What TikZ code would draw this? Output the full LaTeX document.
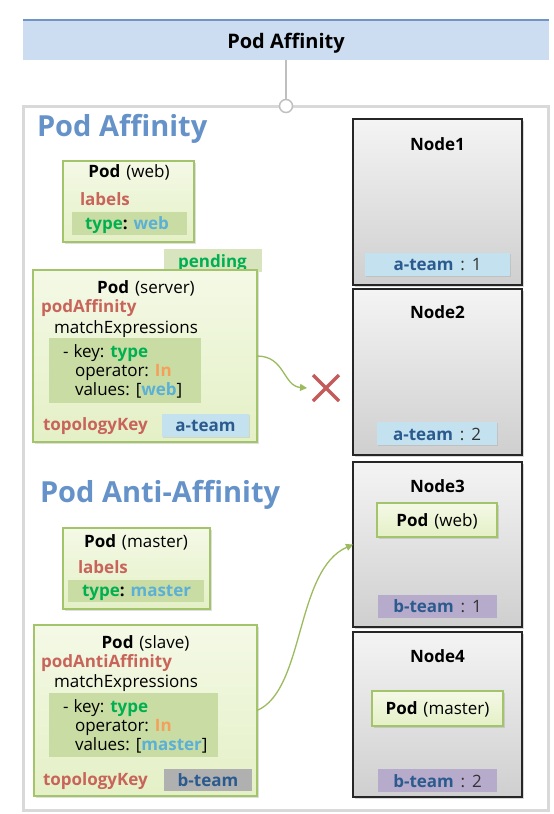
\documentclass[tikz,border=0pt]{standalone}
\usepackage{fontspec}
\setmainfont{Open Sans}
\usetikzlibrary{shadows,arrows.meta}
\definecolor{headblue}{HTML}{6592C8}
\definecolor{titlefill}{HTML}{CCDDF1}
\definecolor{titleline}{HTML}{7094C4}
\definecolor{frameline}{HTML}{D9D9D9}
\definecolor{knobline}{HTML}{BFBFBF}
\definecolor{podedge}{HTML}{A3C46A}
\definecolor{podtop}{HTML}{F4F9E6}
\definecolor{podbot}{HTML}{E4F0C6}
\definecolor{innergreen}{HTML}{C9DCA3}
\definecolor{pendfill}{HTML}{D7E4BE}
\definecolor{labred}{HTML}{C8645A}
\definecolor{typegreen}{HTML}{00B050}
\definecolor{valblue}{HTML}{5BB0D6}
\definecolor{inorange}{HTML}{F5A05A}
\definecolor{ateamfill}{HTML}{C3E1EE}
\definecolor{teamtext}{HTML}{2B5B8E}
\definecolor{bteamfill}{HTML}{B7ABCB}
\definecolor{bteamgrey}{HTML}{B0B0B0}
\definecolor{nodeedge}{HTML}{262626}
\definecolor{ntop}{HTML}{F4F4F4}
\definecolor{nbot}{HTML}{CFCFCF}
\definecolor{xred}{HTML}{C55A5A}
\definecolor{arrowgreen}{HTML}{9CBB5E}
\begin{document}
\begin{tikzpicture}[x=1pt,y=-1pt,
  every node/.style={inner sep=0pt,outer sep=0pt},
  fs/.style={font=\fontsize{17}{20}\selectfont},
  tw/.style={fs,anchor=base west},
  tc/.style={fs,anchor=base},
  head/.style={font=\fontsize{29}{33}\selectfont\bfseries,text=headblue,anchor=base west},
  podbox/.style={draw=podedge,line width=1.2pt,top color=podtop,bottom color=podbot,
     drop shadow={opacity=0.25,shadow xshift=1.5pt,shadow yshift=-1.5pt}},
  kbox/.style={draw=nodeedge,line width=1.2pt,top color=ntop,bottom color=nbot,
     drop shadow={opacity=0.3,shadow xshift=1.5pt,shadow yshift=-1.5pt}},
  innerbox/.style={fill=innergreen},
  alabel/.style={fill=ateamfill,drop shadow={opacity=0.2,shadow xshift=1pt,shadow yshift=-1pt}},
  blabel/.style={fill=bteamfill},
  conn/.style={draw=arrowgreen,line width=1.3pt,-{Triangle[length=7pt,width=7pt]}}
]
\useasboundingbox (0,0) rectangle (554,814);
% title
\node[fill=titlefill,minimum width=526pt,minimum height=40pt] (title) at (286,40) {};
\draw[titleline,line width=1.5pt] (title.north west) -- (title.north east);
\node[font=\fontsize{20}{24}\selectfont\bfseries,anchor=base] (titletext) at (286,48) {Pod Affinity};
% frame
\node[draw=frameline,line width=3pt,fill=white,minimum width=525pt,minimum height=704pt] (frame) at (285.5,458) {};
\node[circle,draw=knobline,line width=1.5pt,fill=white,minimum size=13pt] (knob) at (286,106) {};
\draw[knobline,line width=1.2pt] (title.south) -- (knob.north);
% headings
\node[head] (h1) at (37,136) {Pod Affinity};
\node[head] (h2) at (40,502) {Pod Anti-Affinity};
% right nodes
\node[kbox,minimum width=169pt,minimum height=166pt] (node1) at (437.5,202) {};
\node[kbox,minimum width=169pt,minimum height=166pt] (node2) at (437.5,372) {};
\node[kbox,minimum width=169pt,minimum height=165pt] (node3) at (437.5,544.5) {};
\node[kbox,minimum width=169pt,minimum height=165pt] (node4) at (437.5,714.5) {};
\node[tc,font=\fontsize{17}{20}\selectfont\bfseries] (n1t) at (437.5,150) {Node1};
\node[tc,font=\fontsize{17}{20}\selectfont\bfseries] (n2t) at (437.5,318) {Node2};
\node[tc,font=\fontsize{17}{20}\selectfont\bfseries] (n3t) at (437.5,492) {Node3};
\node[tc,font=\fontsize{17}{20}\selectfont\bfseries] (n4t) at (437.5,662) {Node4};
\node[alabel,minimum width=145pt,minimum height=23pt] (lab1) at (437.5,264.5) {};
\node[alabel,minimum width=120pt,minimum height=23pt] (lab2) at (437,433.5) {};
\node[blabel,minimum width=119pt,minimum height=23pt] (lab3) at (437.5,606.5) {};
\node[blabel,minimum width=119pt,minimum height=23pt] (lab4) at (437.5,780.5) {};
\node[tc] (lab1t) at (437.5,270) {\textcolor{teamtext}{\bfseries a-team}\hspace{0.4em}\textcolor{black!80}{:\hspace{0.4em}1}};
\node[tc] (lab2t) at (437,440) {\textcolor{teamtext}{\bfseries a-team}\hspace{0.4em}\textcolor{black!80}{:\hspace{0.4em}2}};
\node[tc] (lab3t) at (437.5,612) {\textcolor{teamtext}{\bfseries b-team}\hspace{0.4em}\textcolor{black!80}{:\hspace{0.4em}1}};
\node[tc] (lab4t) at (437.5,787) {\textcolor{teamtext}{\bfseries b-team}\hspace{0.4em}\textcolor{black!80}{:\hspace{0.4em}2}};
\node[podbox,minimum width=120pt,minimum height=34pt] (pod3) at (437,520) {};
\node[podbox,minimum width=131pt,minimum height=35pt] (pod4) at (437.5,708.5) {};
\node[tc] (pod3t) at (437,526) {\textbf{Pod}\hspace{0.35em}(web)};
\node[tc] (pod4t) at (437.5,714) {\textbf{Pod}\hspace{0.35em}(master)};
% pod web
\node[podbox,minimum width=131pt,minimum height=81pt] (web) at (128.5,201.5) {};
\node[innerbox,minimum width=115pt,minimum height=23pt] (webin) at (129.5,223.5) {};
\node[tc] (webt) at (129,177) {\textbf{Pod}\hspace{0.35em}(web)};
\node[tw,text=labred,font=\fontsize{17}{20}\selectfont\bfseries] (webl) at (80,205) {labels};
\node[tw,font=\fontsize{17}{20}\selectfont\bfseries] (webty) at (85,229) {\textcolor{typegreen}{type}: \textcolor{valblue}{web}};
% pending
\node[fill=pendfill,minimum width=98pt,minimum height=23pt] (pend) at (213,260.5) {};
\node[tc,text=typegreen,font=\fontsize{17}{20}\selectfont\bfseries] (pendt) at (212.5,267) {pending};
% pod server
\node[podbox,minimum width=224pt,minimum height=172pt] (server) at (145,356) {};
\node[innerbox,minimum width=152pt,minimum height=65pt] (serverin) at (125,370.5) {};
\node[tc] (servt) at (146,293) {\textbf{Pod}\hspace{0.35em}(server)};
\node[tw,text=labred,font=\fontsize{17}{20}\selectfont\bfseries] (sa) at (41,312) {podAffinity};
\node[tw] (sm) at (54,333) {matchExpressions};
\node[tw] (s1) at (63,357) {-\hspace{0.3em}key: \textcolor{typegreen}{\bfseries type}};
\node[tw] (s2) at (75,376) {operator: \textcolor{inorange}{\bfseries In}};
\node[tw] (s3) at (75,395) {values: [\textcolor{valblue}{\bfseries web}]};
\node[tw,text=labred,font=\fontsize{17}{20}\selectfont\bfseries] (stk) at (43,430) {topologyKey};
\node[alabel,minimum width=87pt,minimum height=23pt] (ateam) at (205.5,425.5) {};
\node[tc,text=teamtext,font=\fontsize{17}{20}\selectfont\bfseries] (ateamt) at (205.5,431) {a-team};
% X mark
\node[minimum size=26pt] (xmark) at (326,388) {};
\draw[xred,line width=3.5pt] (xmark.north west) -- (xmark.south east);
\draw[xred,line width=3.5pt] (xmark.south west) -- (xmark.north east);
\draw[conn] (server.east) .. controls (285,356) and (283,386) .. ([xshift=-6pt]xmark.west);
% pod master
\node[podbox,minimum width=147pt,minimum height=81pt] (master) at (136.5,568.5) {};
\node[innerbox,minimum width=136pt,minimum height=22pt] (masterin) at (136,591) {};
\node[tc] (mastt) at (136,547) {\textbf{Pod}\hspace{0.35em}(master)};
\node[tw,text=labred,font=\fontsize{17}{20}\selectfont\bfseries] (mastl) at (78,573) {labels};
\node[tw,font=\fontsize{17}{20}\selectfont\bfseries] (mastty) at (82,596) {\textcolor{typegreen}{type}: \textcolor{valblue}{master}};
% pod slave
\node[podbox,minimum width=223pt,minimum height=171pt] (slave) at (145.5,710.5) {};
\node[innerbox,minimum width=169pt,minimum height=64pt] (slavein) at (133.5,725) {};
\node[tc] (slavt) at (145.5,648) {\textbf{Pod}\hspace{0.35em}(slave)};
\node[tw,text=labred,font=\fontsize{17}{20}\selectfont\bfseries] (sla) at (41,667) {podAntiAffinity};
\node[tw] (slm) at (54,687) {matchExpressions};
\node[tw] (sl1) at (63,712) {-\hspace{0.3em}key: \textcolor{typegreen}{\bfseries type}};
\node[tw] (sl2) at (75,731) {operator: \textcolor{inorange}{\bfseries In}};
\node[tw] (sl3) at (75,750) {values: [\textcolor{valblue}{\bfseries master}]};
\node[tw,text=labred,font=\fontsize{17}{20}\selectfont\bfseries] (sltk) at (43,785) {topologyKey};
\node[fill=bteamgrey,minimum width=88pt,minimum height=22pt] (bteam) at (208,780) {};
\node[tc,text=teamtext,font=\fontsize{17}{20}\selectfont\bfseries] (bteamt) at (208,786) {b-team};
\draw[conn] (slave.east) .. controls (305,690) and (295,570) .. (node3.west);
\end{tikzpicture}
\end{document}
